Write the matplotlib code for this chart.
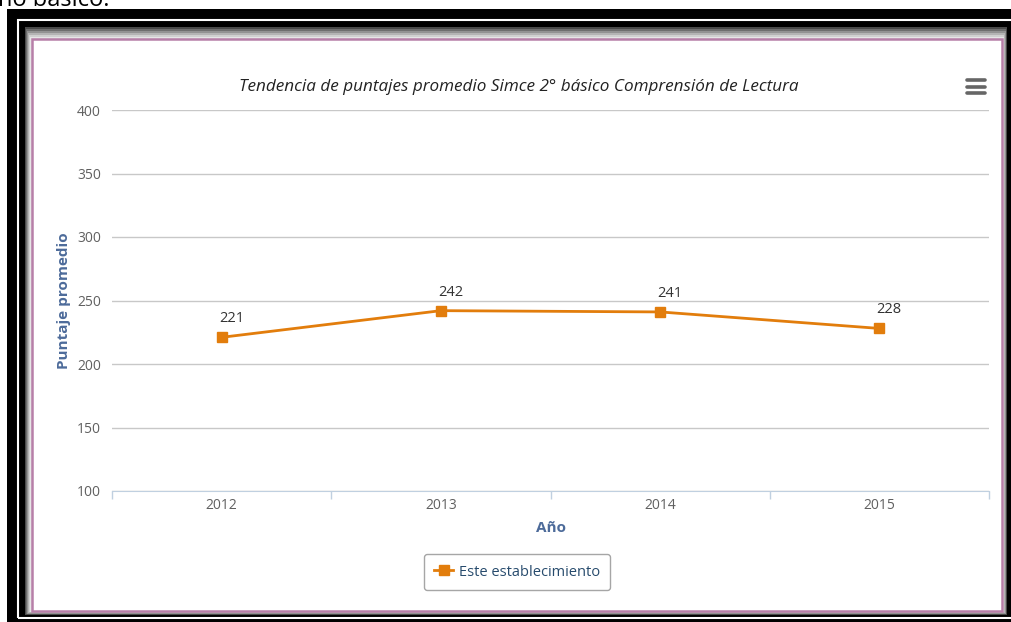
import matplotlib.pyplot as plt
from matplotlib.patches import Rectangle
from matplotlib.lines import Line2D

years = ["2012", "2013", "2014", "2015"]
scores = [221, 242, 241, 228]
labels = ["221", "242", "241", "228"]
y_ticks = [100, 150, 200, 250, 300, 350, 400]

W, H = 1011, 622
plt.rcParams['font.family'] = ['Open Sans', 'DejaVu Sans']

fig = plt.figure(figsize=(W / 100, H / 100), dpi=100)


def box(x0, y0, x1, y1, **kw):
    # rectangle in pixel coords, origin top-left, kept behind the axes
    r = Rectangle((x0 / W, 1 - y1 / H), (x1 - x0) / W, (y1 - y0) / H,
                  transform=fig.transFigure, zorder=-5, **kw)
    fig.add_artist(r)


# screenshot frame
box(7, 9, 1013, 624, facecolor='black', edgecolor='none')
box(18, 20, 1013, 618, facecolor='none', edgecolor='white', linewidth=1.5)
shades = ['#4a4a4a', '#6e6e6e', '#929292', '#b4b4b4', '#d0d0d0', '#e6e6e6']
for i, c in enumerate(shades):
    box(25 + i, 27 + 2 * i, 1007 - i * 0.7, 615 - i * 0.7, facecolor=c, edgecolor='none')
box(32, 39, 1002, 611, facecolor='white', edgecolor='#b77fa8', linewidth=1.8)

fig.text(-2 / W, 1 - 0 / H, "no básico.", fontsize=17, ha='left', va='center', color='black')

ax = fig.add_axes([112 / W, 1 - 491 / H, 877 / W, 381 / H])
ax.set_facecolor('none')
x = list(range(len(years)))
ax.plot(x, scores, color='#e27d0c', linewidth=2, marker='s', markersize=6.5,
        markeredgecolor='#e27d0c', label='Este establecimiento', zorder=3)
for xi, yi, lab in zip(x, scores, labels):
    ax.annotate(lab, (xi, yi), xytext=(7, 8), textcoords='offset points',
                ha='center', va='bottom', fontsize=10.5, color='#333333')

ax.set_xlim(-0.5, len(years) - 0.5)
ax.set_ylim(100, 400)
ax.set_yticks(y_ticks)
ax.set_xticks(x)
ax.set_xticklabels(years)
ax.set_xticks([i - 0.5 for i in range(len(years) + 1)], minor=True)
ax.grid(axis='y', color='#c8c8c8', linewidth=1)
ax.set_axisbelow(True)
for s in ['top', 'right', 'left']:
    ax.spines[s].set_visible(False)
ax.spines['bottom'].set_color('#c0d0e0')
ax.tick_params(axis='y', length=0, pad=8, labelsize=10, labelcolor='#606060')
ax.tick_params(axis='x', which='major', length=0, pad=5, labelsize=10, labelcolor='#606060')
ax.tick_params(axis='x', which='minor', length=6, color='#c0d0e0', width=1)

ax.set_xlabel("Año", fontsize=11, fontweight='bold', color='#4d6b9a', labelpad=6)
ax.set_ylabel("Puntaje promedio", fontsize=11, fontweight='bold', color='#4d6b9a', labelpad=4)
fig.text(519 / W, 1 - 87 / H,
         "Tendencia de puntajes promedio Simce 2° básico Comprensión de Lectura",
         fontsize=12.3, style='italic', color='#222222', ha='center', va='center')

leg = ax.legend(loc='center', bbox_to_anchor=(517 / W, 1 - 572 / H),
                bbox_transform=fig.transFigure, frameon=True, fancybox=True,
                edgecolor='#909090', fontsize=10.5, handlelength=1.3,
                handletextpad=0.4, borderpad=0.7, markerscale=1.0)
leg.get_frame().set_linewidth(1)
for t in leg.get_texts():
    t.set_color('#274b6d')

# menu icon
for yy in (80, 87, 93):
    fig.add_artist(Line2D([967 / W, 985 / W], [1 - yy / H] * 2, transform=fig.transFigure,
                          color='#666666', linewidth=2.6, solid_capstyle='round'))

fig.savefig('out.png', dpi=100)
